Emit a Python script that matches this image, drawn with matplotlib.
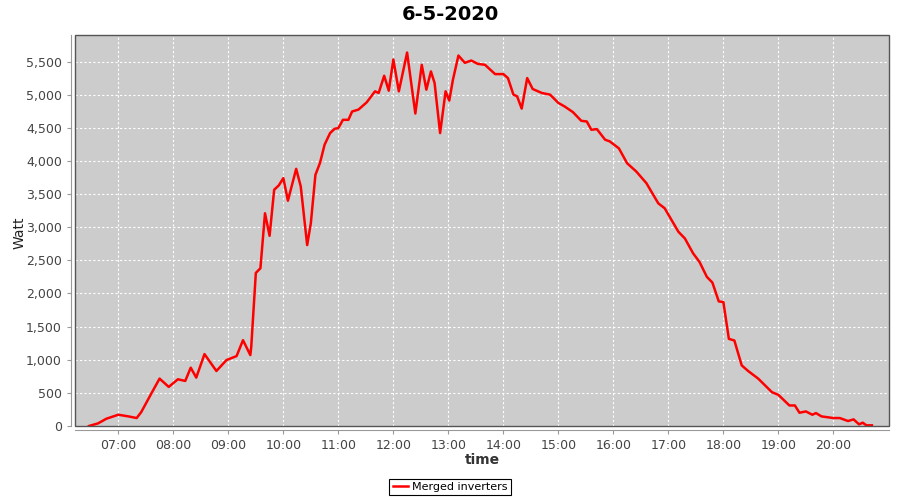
import matplotlib
matplotlib.use("Agg")
import matplotlib.pyplot as plt
import matplotlib.dates as mdates
from matplotlib.patches import Rectangle
from matplotlib.ticker import FuncFormatter
import pandas as pd

day = "2020-05-06"

times = ["06:28", "06:38", "06:47", "07:00", "07:11", "07:20", "07:25", "07:36",
         "07:45", "07:55", "08:05", "08:13", "08:19", "08:25", "08:34", "08:47",
         "08:58", "09:09", "09:16", "09:24", "09:25", "09:30", "09:35", "09:40",
         "09:45", "09:50", "09:55", "10:00", "10:05", "10:14", "10:19", "10:26",
         "10:30", "10:35", "10:40", "10:45", "10:51", "10:56", "11:00", "11:05",
         "11:11", "11:15", "11:22", "11:31", "11:40", "11:44", "11:50", "11:55",
         "12:00", "12:06", "12:15", "12:24", "12:31", "12:36", "12:41", "12:45",
         "12:51", "12:57", "13:01", "13:05", "13:11", "13:18", "13:25", "13:32",
         "13:40", "13:51", "14:00", "14:05", "14:11", "14:15", "14:20", "14:26",
         "14:32", "14:42", "14:51", "15:00", "15:07", "15:16", "15:25", "15:31",
         "15:36", "15:42", "15:51", "15:56", "16:06", "16:15", "16:25", "16:36",
         "16:49", "16:56", "17:11", "17:18", "17:27", "17:34", "17:42", "17:48",
         "17:55", "18:00", "18:06", "18:12", "18:20", "18:27", "18:38", "18:53",
         "19:00", "19:12", "19:18", "19:23", "19:30", "19:37", "19:41", "19:47",
         "20:00", "20:07", "20:16", "20:22", "20:28", "20:32", "20:36", "20:42"]

watts = [0, 40, 110, 170, 145, 120, 210, 490,
         715, 590, 705, 680, 880, 730, 1085, 830,
         995, 1055, 1295, 1070, 1195, 2310, 2380, 3210,
         2870, 3565, 3630, 3740, 3400, 3880, 3615, 2730,
         3060, 3790, 3970, 4245, 4420, 4485, 4495, 4620,
         4620, 4745, 4775, 4885, 5050, 5025, 5285, 5060,
         5530, 5050, 5635, 4715, 5450, 5075, 5350, 5175,
         4420, 5050, 4910, 5225, 5590, 5480, 5515, 5465,
         5450, 5310, 5310, 5250, 5000, 4975, 4790, 5250,
         5085, 5025, 5000, 4875, 4820, 4735, 4605, 4595,
         4470, 4480, 4320, 4295, 4190, 3965, 3840, 3665,
         3360, 3285, 2930, 2830, 2605, 2475, 2250, 2165,
         1880, 1870, 1315, 1290, 915, 830, 715, 510,
         470, 310, 310, 200, 220, 170, 195, 145,
         120, 120, 75, 100, 25, 50, 10, 10]

title = "6-5-2020"
series_name = "Merged inverters"

t = pd.to_datetime([day + " " + s for s in times])

fig = plt.figure(figsize=(9, 5), dpi=100)
ax = fig.add_axes([75 / 900, 1 - 426 / 500, (889 - 75) / 900, (426 - 35) / 500])
ax.set_facecolor("#cccccc")

ax.plot(t, watts, color="#ff0000", lw=1.8, label=series_name, solid_joinstyle="round")

ax.set_xlim(pd.Timestamp(day + " 06:12:45"), pd.Timestamp(day + " 21:00:40"))
ax.set_ylim(0, 5900)
ax.set_yticks(range(0, 6000, 500))
ax.yaxis.set_major_formatter(FuncFormatter(lambda v, p: f"{int(v):,}"))
ax.xaxis.set_major_locator(mdates.HourLocator(byhour=range(7, 21)))
ax.xaxis.set_major_formatter(mdates.DateFormatter("%H:%M"))

ax.grid(True, color="white", ls=(0, (2, 2)), lw=0.8)
ax.set_axisbelow(True)

for s in ["top", "right"]:
    ax.spines[s].set_visible(False)
for s in ["left", "bottom"]:
    ax.spines[s].set_position(("outward", 3))
    ax.spines[s].set_color("#999999")
ax.add_patch(Rectangle((0, 0), 1, 1, transform=ax.transAxes, fill=False,
                       edgecolor="#555555", lw=1, clip_on=False, zorder=5))
ax.tick_params(colors="#999999", labelcolor="#444444", labelsize=9, length=3)

fig.text(0.5, 1 - 14 / 500, title, ha="center", va="center", fontsize=14, fontweight="bold")
fig.text(20 / 900, 1 - 233 / 500, "Watt", rotation=90, ha="center", va="center", fontsize=10, color="#222222")
fig.text(482 / 900, 1 - 460 / 500, "time", ha="center", va="center", fontsize=10, fontweight="bold", color="#333333")

leg = fig.legend(loc="center", bbox_to_anchor=(450 / 900, 1 - 487 / 500), fontsize=8,
                 fancybox=False, framealpha=1, edgecolor="black", handlelength=1.4,
                 borderpad=0.3, handletextpad=0.3, borderaxespad=0)
leg.get_frame().set_linewidth(0.8)

fig.savefig("out.png", dpi=100)
